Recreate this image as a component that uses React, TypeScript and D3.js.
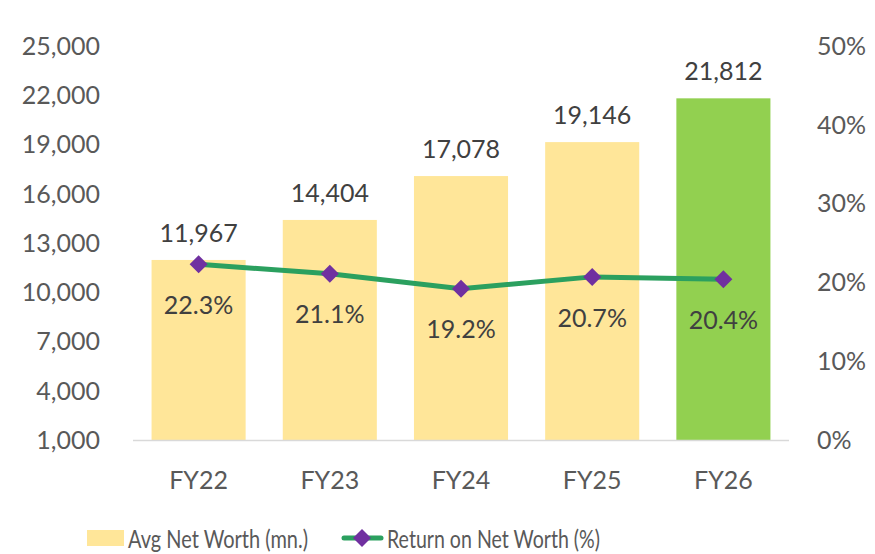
import React from "react";
import * as d3 from "d3";

const categories = ["FY22", "FY23", "FY24", "FY25", "FY26"];
const netWorth = [11967, 14404, 17078, 19146, 21812];
const returnPct = [22.3, 21.1, 19.2, 20.7, 20.4];
const leftTicks = [1000, 4000, 7000, 10000, 13000, 16000, 19000, 22000, 25000];
const rightTicks = [0, 10, 20, 30, 40, 50];

const W = 875;
const H = 554;
const FONT = "Lato, 'Open Sans', sans-serif";

export default function App() {
  const x = d3.scaleBand<string>().domain(categories).range([133, 789]).paddingInner(0.283).paddingOuter(0.1415);
  const yL = d3.scaleLinear().domain([1000, 25000]).range([440, 46]);
  const yR = d3.scaleLinear().domain([0, 50]).range([440, 46]);
  const fmt = d3.format(",");
  const cx = (c: string) => (x(c) as number) + x.bandwidth() / 2;
  const line = d3
    .line<number>()
    .x((_, i) => cx(categories[i]))
    .y((d) => yR(d));
  const diamond = (px: number, py: number, r: number) =>
    `M${px},${py - r}L${px + r},${py}L${px},${py + r}L${px - r},${py}Z`;

  return (
    <svg width={W} height={H} style={{ position: "absolute", left: 0, top: 0, background: "#fff" }} fontFamily={FONT}>
      {leftTicks.map((t) => (
        <text key={"l" + t} x={100} y={yL(t)} dy="0.35em" textAnchor="end" fontSize={25} fill="#595959">
          {fmt(t)}
        </text>
      ))}
      {rightTicks.map((t) => (
        <text key={"r" + t} x={817} y={yR(t)} dy="0.35em" textAnchor="start" fontSize={25} fill="#595959">
          {t}%
        </text>
      ))}
      {categories.map((c, i) => (
        <rect
          key={"b" + c}
          x={x(c)}
          y={yL(netWorth[i])}
          width={x.bandwidth()}
          height={yL(1000) - yL(netWorth[i])}
          fill={i === categories.length - 1 ? "#92D050" : "#FFE699"}
        />
      ))}
      <line x1={133} x2={789} y1={440.5} y2={440.5} stroke="#D9D9D9" strokeWidth={1.5} />
      {categories.map((c) => (
        <text key={"c" + c} x={cx(c)} y={480} dy="0.35em" textAnchor="middle" fontSize={25} fill="#595959">
          {c}
        </text>
      ))}
      {categories.map((c, i) => (
        <text key={"v" + c} x={cx(c)} y={yL(netWorth[i]) - 27} dy="0.35em" textAnchor="middle" fontSize={25} fill="#404040">
          {fmt(netWorth[i])}
        </text>
      ))}
      <path d={line(returnPct) || ""} fill="none" stroke="#2BA05F" strokeWidth={5} />
      {returnPct.map((v, i) => (
        <path key={"d" + i} d={diamond(cx(categories[i]), yR(v), 9)} fill="#7030A0" />
      ))}
      {returnPct.map((v, i) => (
        <text key={"p" + i} x={cx(categories[i])} y={yR(v) + 41} dy="0.35em" textAnchor="middle" fontSize={25} fill="#404040">
          {v.toFixed(1)}%
        </text>
      ))}
      <rect x={87} y={530} width={37} height={16} fill="#FFE699" />
      <text x={128} y={539} dy="0.35em" fontSize={25} fill="#595959" textLength={180} lengthAdjust="spacingAndGlyphs">
        Avg Net Worth (mn.)
      </text>
      <line x1={344} x2={381} y1={538} y2={538} stroke="#2BA05F" strokeWidth={5} strokeLinecap="round" />
      <path d={diamond(362, 538, 9)} fill="#7030A0" />
      <text x={387} y={539} dy="0.35em" fontSize={25} fill="#595959" textLength={213} lengthAdjust="spacingAndGlyphs">
        Return on Net Worth (%)
      </text>
    </svg>
  );
}
